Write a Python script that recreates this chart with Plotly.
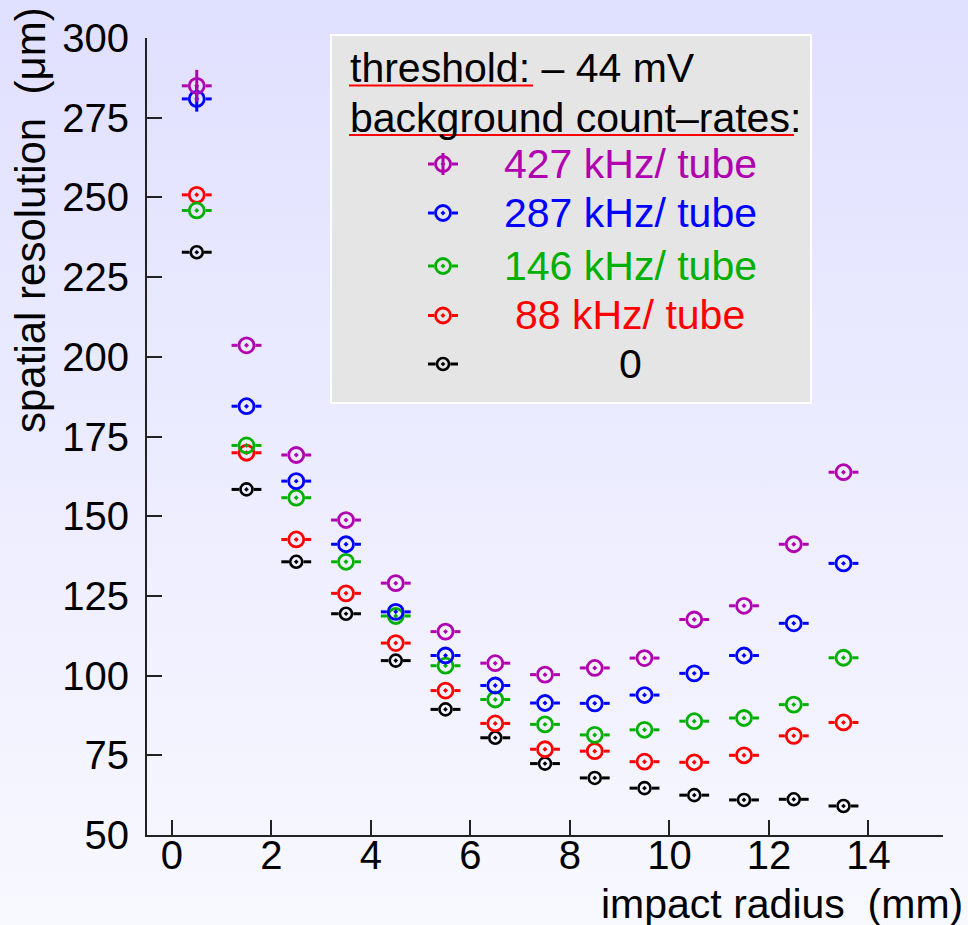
import base64
import plotly.graph_objects as go

# ---------------- data ----------------
impact_radius_mm = [0.5, 1.5, 2.5, 3.5, 4.5, 5.5, 6.5, 7.5, 8.5, 9.5, 10.5, 11.5, 12.5, 13.5]

res_427 = [285.0, 203.6, 169.2, 148.8, 129.0, 113.8, 103.9, 100.3, 102.4, 105.5, 117.6, 121.9, 141.2, 163.8]
res_287 = [280.9, 184.5, 161.0, 141.2, 120.0, 106.3, 96.9, 91.4, 91.3, 93.9, 100.7, 106.3, 116.4, 135.2]
res_146 = [245.9, 172.2, 155.8, 135.7, 118.7, 103.1, 92.5, 84.7, 81.4, 83.0, 85.7, 86.7, 90.9, 105.6]
res_88 = [250.8, 169.9, 142.7, 125.8, 110.2, 95.3, 85.0, 76.9, 76.3, 73.0, 72.8, 75.0, 81.1, 85.3]
res_0 = [232.8, 158.4, 135.7, 119.4, 104.7, 89.4, 80.5, 72.4, 67.9, 64.7, 62.5, 61.0, 61.2, 59.1]

# vertical errors (only those larger than the marker are visible in the reference)
err_427 = [5.0, 0, 0, 0, 0, 0, 0, 0, 0, 0, 0, 0, 0, 0]
err_287 = [4.0, 0, 0, 0, 0, 0, 0, 0, 0, 0, 0, 0, 0, 0]
err_146 = [0, 0, 0, 0, 0, 0, 0, 0, 0, 0, 0, 0, 0, 0]
err_88 = [0, 0, 0, 0, 0, 0, 0, 0, 0, 0, 0, 0, 0, 0]
err_0 = [0, 0, 0, 0, 0, 0, 0, 0, 0, 0, 0, 0, 0, 0]
x_half_width = 0.3

series_labels = ["427 kHz/ tube", "287 kHz/ tube", "146 kHz/ tube", "88 kHz/ tube", "0"]
x_ticks = [0, 2, 4, 6, 8, 10, 12, 14]
y_ticks = [50, 75, 100, 125, 150, 175, 200, 225, 250, 275, 300]

legend_line1 = "threshold: \u2013 44 mV"
legend_line2 = "background count\u2013rates:"
x_title = "impact radius  (mm)"
y_title = "spatial resolution  (\u03bcm)"

# ---------------- style ----------------
W, H = 968, 925
L, R, T, B = 147, 25, 38, 90
PW, PH = W - L - R, H - T - B
X_RANGE = [-0.5, 15.5]
Y_RANGE = [50, 300]
FONT = "Liberation Sans, Arial, Helvetica, sans-serif"
AX = "#222222"

colors = ["#b000b0", "#0000ff", "#00b000", "#ff0000", "#000000"]
msize = [15, 15, 15, 15, 12]
mline = [2.8, 2.8, 2.8, 2.8, 2.6]


def pxx(px):
    return (px - L) / PW


def pxy(py):
    return 1 - (py - T) / PH


px_per_x = PW / (X_RANGE[1] - X_RANGE[0])

series = [
    (res_427, err_427),
    (res_287, err_287),
    (res_146, err_146),
    (res_88, err_88),
    (res_0, err_0),
]

fig = go.Figure()

# background gradient
svg = (
    f'<svg xmlns="http://www.w3.org/2000/svg" width="{W}" height="{H}" '
    f'viewBox="0 0 {W} {H}" preserveAspectRatio="none">'
    '<defs><linearGradient id="g" x1="0" y1="0" x2="0" y2="1">'
    '<stop offset="0" stop-color="#e0e0ff"/><stop offset="1" stop-color="#f8f8ff"/>'
    '</linearGradient></defs>'
    f'<rect x="0" y="0" width="{W}" height="{H}" fill="url(#g)"/></svg>'
)
bg_src = "data:image/svg+xml;base64," + base64.b64encode(svg.encode()).decode()

# draw order: black first, purple last (on top)
order = [4, 3, 2, 1, 0]
for i in order:
    vals, yerr = series[i]
    r_px = (msize[i] + mline[i]) / 2
    r_data = r_px / px_per_x
    xs, ys = [], []
    for xv, yv in zip(impact_radius_mm, vals):
        xs += [xv - x_half_width, xv - r_data, None, xv + r_data, xv + x_half_width, None]
        ys += [yv, yv, None, yv, yv, None]
    fig.add_trace(go.Scatter(
        x=xs, y=ys, mode="lines", line=dict(color=colors[i], width=3),
        showlegend=False, hoverinfo="skip", cliponaxis=False,
    ))
    fig.add_trace(go.Scatter(
        x=impact_radius_mm, y=vals, mode="markers",
        marker=dict(symbol="circle-open-dot", size=msize[i], color=colors[i],
                    line=dict(width=mline[i], color=colors[i])),
        error_y=dict(type="data", array=yerr, visible=True, width=0,
                     thickness=3, color=colors[i]),
        showlegend=False, cliponaxis=False,
    ))

# legend symbols on a pixel-coordinate overlay axis
leg_sym_x = 443
leg_rows_y = [164, 213, 266, 315.5, 364]
leg_text_x = 630
for i in range(5):
    r_px = (msize[i] + mline[i]) / 2
    ly = leg_rows_y[i]
    fig.add_trace(go.Scatter(
        x=[leg_sym_x - 15, leg_sym_x - r_px, None, leg_sym_x + r_px, leg_sym_x + 15],
        y=[ly, ly, None, ly, ly], mode="lines",
        line=dict(color=colors[i], width=3),
        xaxis="x2", yaxis="y2", showlegend=False, hoverinfo="skip", cliponaxis=False,
    ))
    fig.add_trace(go.Scatter(
        x=[leg_sym_x], y=[ly], mode="markers",
        marker=dict(symbol="circle-open-dot", size=msize[i], color=colors[i],
                    line=dict(width=mline[i], color=colors[i])),
        error_y=dict(type="constant", value=11 if i == 0 else 0, visible=(i == 0),
                     width=0, thickness=3, color=colors[i]),
        xaxis="x2", yaxis="y2", showlegend=False, cliponaxis=False,
    ))

annotations = []
# legend header text
annotations.append(dict(x=pxx(348), y=pxy(68), xref="paper", yref="paper",
                        text=legend_line1, showarrow=False, xanchor="left",
                        yanchor="middle", font=dict(family=FONT, size=41, color="black")))
annotations.append(dict(x=pxx(348), y=pxy(118), xref="paper", yref="paper",
                        text=legend_line2, showarrow=False, xanchor="left",
                        yanchor="middle", font=dict(family=FONT, size=41, color="black")))
for i in range(5):
    annotations.append(dict(x=pxx(leg_text_x), y=pxy(leg_rows_y[i]), xref="paper", yref="paper",
                            text=series_labels[i], showarrow=False, xanchor="center",
                            yanchor="middle",
                            font=dict(family=FONT, size=41, color=colors[i])))
# axis titles
annotations.append(dict(x=pxx(965), y=pxy(904), xref="paper", yref="paper",
                        text=x_title, showarrow=False, xanchor="right", yanchor="middle",
                        font=dict(family=FONT, size=41, color="black")))
annotations.append(dict(x=pxx(31), y=pxy(220), xref="paper", yref="paper",
                        text=y_title, showarrow=False, xanchor="center", yanchor="middle",
                        textangle=-90,
                        font=dict(family=FONT, size=42, color="black")))

shapes = [
    dict(type="rect", xref="paper", yref="paper", x0=pxx(331), x1=pxx(811),
         y0=pxy(403), y1=pxy(35), fillcolor="#e5e5e5",
         line=dict(color="#ffffff", width=2), layer="below"),
    dict(type="line", xref="paper", yref="paper", x0=pxx(349), x1=pxx(533),
         y0=pxy(85.5), y1=pxy(85.5), line=dict(color="#ff0000", width=2)),
    dict(type="line", xref="paper", yref="paper", x0=pxx(349), x1=pxx(794),
         y0=pxy(135), y1=pxy(135), line=dict(color="#ff0000", width=2)),
]

fig.update_layout(
    width=W, height=H,
    margin=dict(l=L, r=R, t=T, b=B, pad=0),
    paper_bgcolor="#ececfc",
    plot_bgcolor="rgba(0,0,0,0)",
    showlegend=False,
    font=dict(family=FONT, size=40, color="black"),
    images=[dict(source=bg_src, xref="paper", yref="paper",
                 x=-L / PW, y=1 + T / PH, sizex=W / PW, sizey=H / PH,
                 xanchor="left", yanchor="top", sizing="stretch", layer="below")],
    xaxis=dict(range=X_RANGE, tickvals=x_ticks, ticks="inside", ticklen=15,
               tickwidth=2, tickcolor=AX, showline=True, linecolor=AX, linewidth=2,
               showgrid=False, zeroline=False, tickfont=dict(size=40, family=FONT),
               ticklabelstandoff=-16),
    yaxis=dict(range=Y_RANGE, tickvals=y_ticks, ticks="inside", ticklen=15,
               tickwidth=2, tickcolor=AX, showline=True, linecolor=AX, linewidth=2,
               showgrid=False, zeroline=False, tickfont=dict(size=40, family=FONT),
               ticklabelstandoff=8),
    xaxis2=dict(overlaying="x", range=[L, W - R], visible=False),
    yaxis2=dict(overlaying="y", range=[H - B, T], visible=False),
    annotations=annotations,
    shapes=shapes,
)

fig.write_html(
    "out.html",
    config={"displayModeBar": False},
    post_script="document.body.style.margin='0';document.body.style.background='#f8f8ff';",
)
